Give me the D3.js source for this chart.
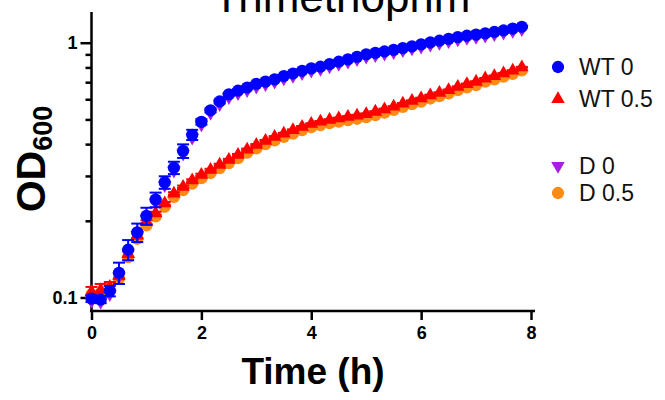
<!DOCTYPE html>
<html lang="en">
  <head>
    <style>
      body { margin: 0; background: #fff; }
      svg { display: block; font-family: "Liberation Sans", Arial, sans-serif; }
    </style>
    <script src="https://d3js.org/d3.v7.min.js"></script>
  </head>
  <body>
    <svg width="665" height="400"></svg>
    <script>
      // time points (h), every 10 min
      const hours = [0, 0.167, 0.333, 0.5, 0.667, 0.833, 1, 1.167, 1.333, 1.5, 1.667, 1.833,
        2, 2.167, 2.333, 2.5, 2.667, 2.833, 3, 3.167, 3.333, 3.5, 3.667, 3.833,
        4, 4.167, 4.333, 4.5, 4.667, 4.833, 5, 5.167, 5.333, 5.5, 5.667, 5.833,
        6, 6.167, 6.333, 6.5, 6.667, 6.833, 7, 7.167, 7.333, 7.5, 7.667, 7.833];

      const wt0 = [0.099, 0.098, 0.106, 0.125, 0.154, 0.180, 0.209, 0.242, 0.283, 0.323, 0.376, 0.435,
        0.489, 0.543, 0.588, 0.627, 0.648, 0.667, 0.689, 0.703, 0.718, 0.740, 0.757, 0.776,
        0.793, 0.805, 0.824, 0.842, 0.860, 0.880, 0.900, 0.912, 0.924, 0.937, 0.953, 0.968,
        0.985, 1.002, 1.018, 1.035, 1.052, 1.065, 1.076, 1.088, 1.102, 1.117, 1.135, 1.155];
      const wt0Err = [0.003, 0.003, 0.005, 0.012, 0.014, 0.015, 0.016, 0.016, 0.016, 0.018, 0.023, 0.02,
        0.012, 0.01, 0.01, 0.008, 0.008, 0.008, 0.008, 0.008, 0.008, 0.008, 0.008, 0.008,
        0.008, 0.008, 0.008, 0.008, 0.008, 0.008, 0.008, 0.008, 0.008, 0.008, 0.008, 0.008,
        0.008, 0.008, 0.008, 0.008, 0.008, 0.008, 0.008, 0.008, 0.008, 0.008, 0.008, 0.008];

      const wt05 = [0.105, 0.107, 0.110, 0.122, 0.148, 0.175, 0.198, 0.214, 0.234, 0.256, 0.272, 0.288,
        0.303, 0.317, 0.332, 0.347, 0.363, 0.381, 0.397, 0.412, 0.427, 0.440, 0.454, 0.468,
        0.480, 0.490, 0.498, 0.505, 0.512, 0.518, 0.525, 0.536, 0.548, 0.561, 0.577, 0.591,
        0.605, 0.622, 0.636, 0.652, 0.671, 0.688, 0.703, 0.724, 0.740, 0.758, 0.777, 0.801];
      const wt05Err = [0.005, 0.006, 0.005, 0.004, 0.004, 0.004, 0.003, 0.003, 0.003, 0.003, 0.003, 0.003,
        0.003, 0.003, 0.003, 0.003, 0.003, 0.003, 0.003, 0.003, 0.003, 0.003, 0.003, 0.003,
        0.003, 0.003, 0.003, 0.003, 0.003, 0.003, 0.003, 0.003, 0.003, 0.003, 0.003, 0.003,
        0.003, 0.003, 0.003, 0.003, 0.003, 0.003, 0.003, 0.003, 0.003, 0.003, 0.003, 0.003];

      const d0 = [0.097, 0.096, 0.103, 0.121, 0.150, 0.176, 0.204, 0.236, 0.276, 0.315, 0.367, 0.424,
        0.478, 0.530, 0.574, 0.612, 0.634, 0.652, 0.673, 0.688, 0.703, 0.724, 0.741, 0.760,
        0.777, 0.789, 0.807, 0.825, 0.843, 0.862, 0.882, 0.894, 0.906, 0.918, 0.934, 0.949,
        0.965, 0.982, 0.998, 1.014, 1.031, 1.044, 1.055, 1.066, 1.080, 1.095, 1.112, 1.130];

      const d05 = [0.103, 0.104, 0.107, 0.119, 0.144, 0.170, 0.192, 0.208, 0.227, 0.248, 0.264, 0.280,
        0.294, 0.308, 0.322, 0.337, 0.352, 0.370, 0.385, 0.400, 0.414, 0.427, 0.440, 0.454,
        0.466, 0.475, 0.483, 0.490, 0.497, 0.503, 0.510, 0.520, 0.532, 0.545, 0.560, 0.574,
        0.587, 0.604, 0.617, 0.633, 0.651, 0.668, 0.682, 0.703, 0.718, 0.736, 0.754, 0.778];

      const xTicks = [0, 2, 4, 6, 8];
      const yMajor = [0.1, 1];
      const yMinor = [0.2, 0.3, 0.4, 0.5, 0.6, 0.7, 0.8, 0.9];

      const series = [
        { name: "WT 0", values: wt0, err: wt0Err, color: "#0000ff", shape: "circle" },
        { name: "WT 0.5", values: wt05, err: wt05Err, color: "#ff0000", shape: "up" },
        { name: "D 0", values: d0, err: null, color: "#a51ee6", shape: "down" },
        { name: "D 0.5", values: d05, err: null, color: "#ff8a14", shape: "circle" },
      ];

      const svg = d3.select("svg");

      const x = d3.scaleLinear().domain([0, 8]).range([91.5, 531]);
      const y = d3.scaleLog().domain([0.0885, 1.32]).range([311, 12]);

      function symbolPath(shape) {
        if (shape === "circle") return d3.symbol(d3.symbolCircle, 118)();
        return d3.symbol(d3.symbolTriangle, 80)();
      }
      function symbolTransform(shape, px, py) {
        return "translate(" + px + "," + py + ")" + (shape === "down" ? " rotate(180)" : "");
      }

      // title (cut off at top, as in the source figure)
      svg.append("text")
        .attr("x", 213)
        .attr("y", 12)
        .attr("font-size", 44)
        .text("Trimethoprim");

      // axes
      const xAxis = svg.append("g")
        .attr("transform", "translate(0," + y.range()[0] + ")")
        .call(d3.axisBottom(x).tickValues(xTicks).tickSize(9).tickSizeOuter(0).tickPadding(6));
      xAxis.select(".domain").remove();
      xAxis.selectAll(".tick line").attr("stroke-width", 2.5);
      xAxis.selectAll(".tick text")
        .attr("font-family", "Liberation Sans, Arial, sans-serif")
        .attr("font-weight", "bold").attr("fill", "#000").attr("font-size", 18);
      xAxis.append("line")
        .attr("x1", x(0) - 1.5).attr("x2", x(8) + 4)
        .attr("stroke", "#000").attr("stroke-width", 2.5);

      const yAxis = svg.append("g")
        .attr("transform", "translate(" + x(0) + ",0)")
        .call(d3.axisLeft(y).tickValues(yMajor).tickSize(11).tickSizeOuter(0).tickPadding(3)
          .tickFormat(d3.format("")));
      yAxis.select(".domain").remove();
      yAxis.selectAll(".tick line").attr("stroke-width", 2.5);
      yAxis.selectAll(".tick text")
        .attr("font-family", "Liberation Sans, Arial, sans-serif")
        .attr("font-weight", "bold").attr("fill", "#000").attr("font-size", 18);

      const yMinorAxis = svg.append("g")
        .attr("transform", "translate(" + x(0) + ",0)")
        .call(d3.axisLeft(y).tickValues(yMinor).tickSize(6).tickSizeOuter(0).tickFormat(""));
      yMinorAxis.select(".domain").remove();
      yMinorAxis.selectAll(".tick line").attr("stroke-width", 2.5);

      svg.append("line")
        .attr("x1", x(0)).attr("x2", x(0))
        .attr("y1", y.range()[0] + 1).attr("y2", y.range()[1])
        .attr("stroke", "#000").attr("stroke-width", 2.5);

      // data, drawn last-series first so WT 0 ends on top
      const plot = svg.append("g");
      series.slice().reverse().forEach(function (s) {
        const g = plot.append("g");
        const pts = hours.map(function (h, i) {
          return { t: h, v: s.values[i], e: s.err ? s.err[i] : 0 };
        });
        if (s.err) {
          const eb = g.selectAll(".err").data(pts).enter().append("g")
            .attr("stroke", s.color).attr("stroke-width", 2).attr("fill", "none");
          eb.append("line")
            .attr("x1", function (d) { return x(d.t); })
            .attr("x2", function (d) { return x(d.t); })
            .attr("y1", function (d) { return y(d.v - d.e); })
            .attr("y2", function (d) { return y(d.v + d.e); });
          eb.append("line")
            .attr("x1", function (d) { return x(d.t) - 6; })
            .attr("x2", function (d) { return x(d.t) + 6; })
            .attr("y1", function (d) { return y(d.v + d.e); })
            .attr("y2", function (d) { return y(d.v + d.e); });
          eb.append("line")
            .attr("x1", function (d) { return x(d.t) - 6; })
            .attr("x2", function (d) { return x(d.t) + 6; })
            .attr("y1", function (d) { return y(d.v - d.e); })
            .attr("y2", function (d) { return y(d.v - d.e); });
        }
        g.selectAll(".pt").data(pts).enter().append("path")
          .attr("d", symbolPath(s.shape))
          .attr("transform", function (d) { return symbolTransform(s.shape, x(d.t), y(d.v)); })
          .attr("fill", s.color);
      });

      // legend
      const legendY = [67, 99, 166, 193];
      const legend = svg.append("g");
      series.forEach(function (s, i) {
        legend.append("path")
          .attr("d", symbolPath(s.shape))
          .attr("transform", symbolTransform(s.shape, 558, legendY[i]))
          .attr("fill", s.color);
        legend.append("text")
          .attr("x", 579)
          .attr("y", legendY[i])
          .attr("dy", "0.36em")
          .attr("font-size", 23)
          .attr("fill", "#111")
          .text(s.name);
      });

      // axis titles
      svg.append("text")
        .attr("x", 313)
        .attr("y", 384)
        .attr("text-anchor", "middle")
        .attr("font-size", 37)
        .attr("font-weight", "bold")
        .text("Time (h)");

      const yl = svg.append("text")
        .attr("transform", "translate(45,159) rotate(-90)")
        .attr("text-anchor", "middle")
        .attr("font-weight", "bold");
      yl.append("tspan").attr("font-size", 41).text("OD");
      yl.append("tspan").attr("font-size", 27).attr("dy", 7).text("600");
    </script>
  </body>
</html>
